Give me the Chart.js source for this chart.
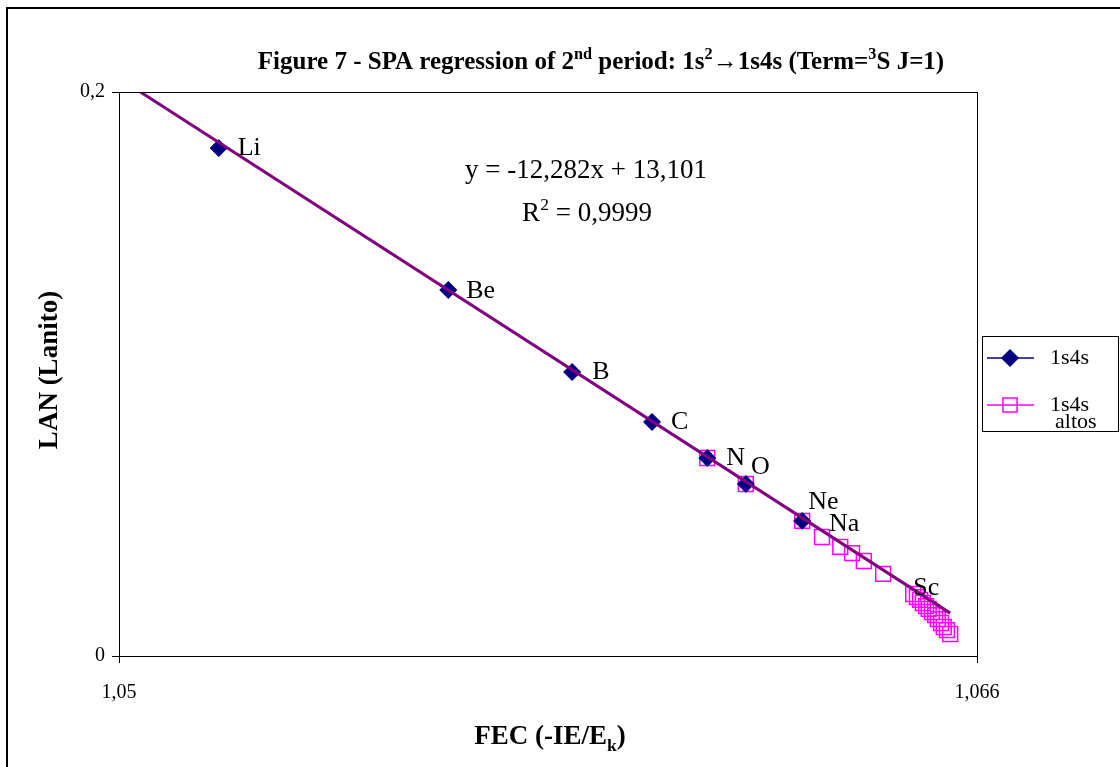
<!DOCTYPE html>
<html>
<head>
<meta charset="utf-8">
<script src="https://cdn.jsdelivr.net/npm/chart.js@4.4.1/dist/chart.umd.min.js"></script>
<style>
  html, body { margin: 0; padding: 0; background: #fff; }
  #wrap { width: 1120px; height: 767px; }
</style>
</head>
<body>
<div id="wrap"><canvas id="mainChart" width="1120" height="767"></canvas></div>
<script>
// data
const lowNames = ['Li', 'Be', 'B', 'C', 'N', 'O', 'Ne'];
const lowX = [1.05186, 1.05614, 1.05845, 1.05994, 1.06097, 1.06169, 1.06274];
const lowY = [0.1801, 0.1298, 0.1007, 0.0830, 0.0702, 0.0610, 0.0479];

const highX = [1.06097, 1.06169, 1.06274, 1.06311, 1.06345, 1.06367, 1.06389, 1.06425,
               1.06481, 1.06488, 1.06494, 1.06499, 1.06505, 1.06510, 1.06516, 1.06522,
               1.06527, 1.06533, 1.06538, 1.06544, 1.06550];
const highY = [0.0702, 0.0610, 0.0479, 0.0422, 0.0387, 0.0365, 0.0337, 0.0291,
               0.0220, 0.0209, 0.0199, 0.0188, 0.0177, 0.0167, 0.0156, 0.0145,
               0.0131, 0.0117, 0.0103, 0.0092, 0.0078];

// trendline end points
const trendX = [1.0504, 1.0655];
const trendY = [0.2, 0.0152];

const xTicks = [1.05, 1.066];
const xTickLabels = ['1,05', '1,066'];
const yTicks = [0, 0.2];
const yTickLabels = ['0', '0,2'];

// point labels: [series, index, text, dx, dy]
const pointLabels = [
    [1, 0, 'Li', 19, 0], [1, 1, 'Be', 18, 1], [1, 2, 'B', 20, 0], [1, 3, 'C', 19, 0],
    [1, 4, 'N', 19, 0], [1, 5, 'O', 5, -17], [1, 6, 'Ne', 6, -19],
    [2, 3, 'Na', 7, -13], [2, 8, 'Sc', 0, -6]
];

const SERIF = '"Liberation Serif", "Times New Roman", serif';
const NAVY = '#000080';
const MAGENTA = '#FF00FF';
const PURPLE = '#800080';


// texto con super/subindices
function drawRich(ctx, parts, x, y, size, bold, align) {
    const w = parts.reduce((s, p) => {
        ctx.font = (bold ? 'bold ' : '') + (p.s ? size * 0.65 : size) + 'px ' + SERIF;
        return s + ctx.measureText(p.t).width;
    }, 0);
    let cx = align === 'left' ? x : x - w / 2;
    ctx.textAlign = 'left';
    ctx.textBaseline = 'alphabetic';
    parts.forEach(p => {
        ctx.font = (bold ? 'bold ' : '') + (p.s ? size * 0.65 : size) + 'px ' + SERIF;
        const dy = p.s === 'sup' ? -size * 0.42 : (p.s === 'sub' ? size * 0.25 : 0);
        ctx.fillText(p.t, cx, y + dy);
        cx += ctx.measureText(p.t).width;
    });
}


const decorPlugin = {
    id: 'decor',
    beforeDraw(chart) {
        const ctx = chart.ctx;
        ctx.save();
        ctx.fillStyle = '#fff';
        ctx.fillRect(0, 0, chart.width, chart.height);
        // marco exterior (cortado a la derecha y abajo)
        ctx.strokeStyle = '#000';
        ctx.lineWidth = 2;
        ctx.beginPath();
        ctx.moveTo(7, 780);
        ctx.lineTo(7, 8);
        ctx.lineTo(1130, 8);
        ctx.stroke();
        ctx.restore();
    },
    afterDatasetsDraw(chart) {
        const ctx = chart.ctx;
        const a = chart.chartArea;
        ctx.save();
        // plot frame
        ctx.strokeStyle = '#000';
        ctx.lineWidth = 1;
        ctx.strokeRect(a.left + 0.5, a.top + 0.5, a.right - a.left, a.bottom - a.top);

        // point labels
        ctx.fillStyle = '#000';
        ctx.font = '26px ' + SERIF;
        ctx.textAlign = 'left';
        ctx.textBaseline = 'middle';
        pointLabels.forEach(([ds, i, txt, dx, dy]) => {
            const pt = chart.getDatasetMeta(ds).data[i];
            ctx.fillText(txt, pt.x + dx, pt.y + dy);
        });

        // equation
        ctx.textAlign = 'center';
        ctx.textBaseline = 'alphabetic';
        ctx.font = '27px ' + SERIF;
        ctx.fillText('y = -12,282x + 13,101', 586, 178);
        drawRich(ctx, [{ t: 'R' }, { t: '2', s: 'sup' }, { t: ' = 0,9999' }], 587, 221, 27, false);

        // title
        drawRich(ctx, [
            { t: 'Figure 7 - SPA regression of 2' }, { t: 'nd', s: 'sup' },
            { t: ' period: 1s' }, { t: '2', s: 'sup' }, { t: '\u21921s4s (Term=' },
            { t: '3', s: 'sup' }, { t: 'S J=1)' }
        ], 601, 69, 25, true);

        // axis titles
        drawRich(ctx, [{ t: 'FEC (-IE/E' }, { t: 'k', s: 'sub' }, { t: ')' }], 550, 744, 27, true);
        ctx.save();
        ctx.translate(57, 370);
        ctx.rotate(-Math.PI / 2);
        drawRich(ctx, [{ t: 'LAN (Lanito)' }], 0, 0, 27, true);
        ctx.restore();

        // legend
        const lx = 982, ly = 336, lw = 136, lh = 95;
        ctx.fillStyle = '#fff';
        ctx.fillRect(lx, ly, lw, lh);
        ctx.strokeStyle = '#000';
        ctx.lineWidth = 1;
        ctx.strokeRect(lx + 0.5, ly + 0.5, lw, lh);

        const rows = [
            { color: NAVY, style: 'rectRot', r: 8, fill: NAVY, y: ly + 22, text: ['1s4s'] },
            { color: MAGENTA, style: 'rect', r: 10, fill: 'rgba(0,0,0,0)', y: ly + 69, text: ['1s4s', 'altos'] }
        ];
        rows.forEach(row => {
            ctx.strokeStyle = row.color;
            ctx.lineWidth = 1.5;
            ctx.beginPath();
            ctx.moveTo(lx + 5, row.y);
            ctx.lineTo(lx + 52, row.y);
            ctx.stroke();
            ctx.fillStyle = row.fill;
            Chart.helpers.drawPoint(ctx, { pointStyle: row.style, radius: row.r, borderWidth: 1.5, rotation: 0 }, lx + 28, row.y);
            ctx.fillStyle = '#000';
            ctx.font = '22px ' + SERIF;
            ctx.textAlign = 'left';
            ctx.textBaseline = 'middle';
            ctx.fillText(row.text[0], lx + 68, row.y);
            if (row.text[1]) ctx.fillText(row.text[1], lx + 73, row.y + 17);
        });
        ctx.restore();
    }
};


const toPts = (xs, ys) => xs.map((x, i) => ({ x: x, y: ys[i] }));

new Chart(document.getElementById('mainChart'), {
    type: 'scatter',
    data: {
        datasets: [
            {
                label: 'trend',
                type: 'line',
                data: toPts(trendX, trendY),
                borderColor: PURPLE,
                borderWidth: 3,
                pointRadius: 0,
                fill: false
            },
            {
                label: '1s4s',
                data: toPts(lowX, lowY),
                pointStyle: 'rectRot',
                pointRadius: 8.5,
                pointBackgroundColor: NAVY,
                pointBorderColor: NAVY,
                pointBorderWidth: 1
            },
            {
                label: '1s4s altos',
                data: toPts(highX, highY),
                pointStyle: 'rect',
                pointRadius: 10.5,
                pointBackgroundColor: 'rgba(0,0,0,0)',
                pointBorderColor: MAGENTA,
                pointBorderWidth: 1.5
            }
        ]
    },
    options: {
        responsive: false,
        animation: false,
        events: [],
        layout: { padding: { left: 0, right: 143, top: 92, bottom: 0 } },
        scales: {
            x: {
                type: 'linear',
                min: 1.05,
                max: 1.066,
                afterBuildTicks: (s) => { s.ticks = xTicks.map(v => ({ value: v })); },
                afterFit: (s) => { s.height = 111; },
                ticks: {
                    callback: (v, i) => xTickLabels[i],
                    color: '#000',
                    font: { family: SERIF, size: 20 },
                    padding: 18,
                    maxRotation: 0
                },
                grid: { drawOnChartArea: false, color: '#000', tickLength: 7 },
                border: { color: '#000', width: 1 }
            },
            y: {
                type: 'linear',
                min: 0,
                max: 0.2,
                afterBuildTicks: (s) => { s.ticks = yTicks.map(v => ({ value: v })); },
                afterFit: (s) => { s.width = 119; },
                ticks: {
                    callback: (v, i) => yTickLabels[i],
                    color: '#000',
                    font: { family: SERIF, size: 20 },
                    padding: 7
                },
                grid: { drawOnChartArea: false, color: '#000', tickLength: 7 },
                border: { color: '#000', width: 1 }
            }
        },
        plugins: {
            legend: { display: false },
            tooltip: { enabled: false },
            title: { display: false }
        }
    },
    plugins: [decorPlugin]
});
</script>
</body>
</html>
